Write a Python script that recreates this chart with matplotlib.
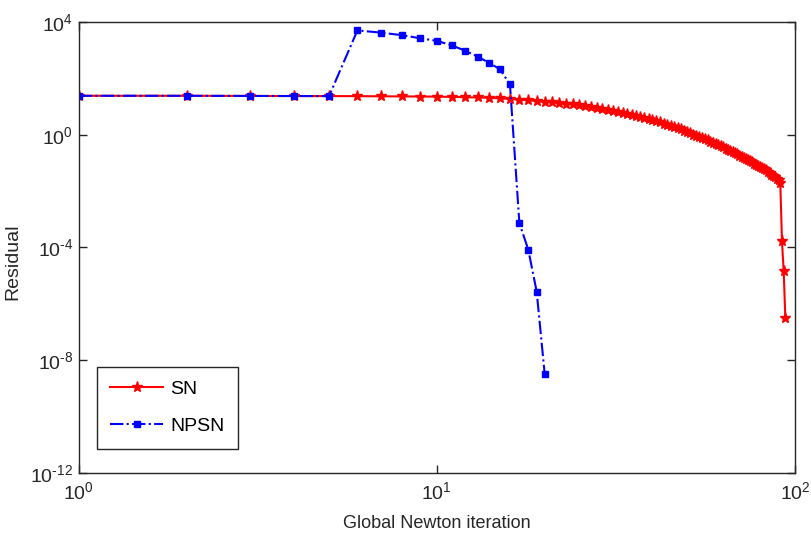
import numpy as np
import matplotlib
matplotlib.use("Agg")
import matplotlib.pyplot as plt

plt.rcParams["font.family"] = ["Liberation Sans", "DejaVu Sans"]
plt.rcParams["mathtext.fontset"] = "custom"
plt.rcParams["mathtext.rm"] = "Liberation Sans"

# residual history
sn_iter = list(range(1, 95))
sn_res = [
    24.0, 24.0, 23.7, 23.5, 23.4, 23.3, 23.0, 22.8, 22.6, 22.4,
    21.9, 21.4, 20.9, 20.4, 19.5, 18.6, 17.6, 16.6, 15.7, 14.8,
    14.0, 13.2, 12.6, 11.9, 11.2, 10.5, 9.66, 8.91, 8.32, 7.76,
    7.08, 6.46, 5.96, 5.50, 5.01, 4.57, 4.22, 3.85, 3.55, 3.24,
    2.95, 2.72, 2.48, 2.29, 2.07, 1.86, 1.70, 1.53, 1.38, 1.24,
    1.12, 1.01, 0.923, 0.832, 0.759, 0.684, 0.624, 0.569, 0.513, 0.468,
    0.427, 0.385, 0.351, 0.320, 0.288, 0.263, 0.240, 0.219, 0.200, 0.182,
    0.166, 0.151, 0.138, 0.126, 0.114, 0.104, 0.0944, 0.0861, 0.0785, 0.0716,
    0.0646, 0.0589, 0.0537, 0.0479, 0.0427, 0.0380, 0.0339, 0.0302, 0.0269, 0.0240,
    0.0200, 1.66e-4, 1.48e-5, 3.24e-7,
]

npsn_iter = list(range(1, 21))
npsn_res = [
    24.0, 24.0, 23.7, 23.5, 23.4, 5010, 4170, 3390, 2630, 2140,
    1480, 955, 589, 355, 209, 61.7, 7.24e-4, 8.32e-5, 2.69e-6, 3.31e-9,
]

x_ticks = [1, 10, 100]
x_labels = [r"$\mathregular{10^{0}}$", r"$\mathregular{10^{1}}$", r"$\mathregular{10^{2}}$"]
y_ticks = [1e-12, 1e-8, 1e-4, 1e0, 1e4]
y_labels = [r"$\mathregular{10^{\text{-12}}}$", r"$\mathregular{10^{\text{-8}}}$",
            r"$\mathregular{10^{\text{-4}}}$", r"$\mathregular{10^{0}}$",
            r"$\mathregular{10^{4}}$"]

fig = plt.figure(figsize=(8.12, 5.36), dpi=100)
ax = fig.add_axes([0.0970, 0.1180, 0.8820, 0.8410])

ax.plot(sn_iter, sn_res, color="red", linestyle="-", linewidth=1.5,
        marker="*", markersize=8, label="SN")
ax.plot(npsn_iter, npsn_res, color="blue", linestyle="-.", linewidth=1.5,
        marker="s", markersize=4, label="NPSN")

ax.set_xscale("log")
ax.set_yscale("log")
ax.set_xlim(1, 100)
ax.set_ylim(1e-12, 1e4)

ax.set_xticks(x_ticks)
ax.set_xticklabels(x_labels)
ax.set_yticks(y_ticks)
ax.set_yticklabels(y_labels)
ax.minorticks_off()
ax.tick_params(direction="in", top=True, right=True, length=6, width=1,
               labelsize=14, colors="#262626")
ax.tick_params(axis="x", pad=6)
ax.tick_params(axis="y", pad=4)

for s in ax.spines.values():
    s.set_color("#262626")
    s.set_linewidth(1.0)

ax.set_xlabel("Global Newton iteration", fontsize=13, color="#262626")
ax.set_ylabel("Residual", fontsize=14, color="#262626")
ax.xaxis.set_label_coords(0.5, -0.093)
ax.yaxis.set_label_coords(-0.08, 0.467)

leg = ax.legend(loc="lower left", bbox_to_anchor=(0.025, 0.053), fontsize=14,
                fancybox=False, edgecolor="#262626", framealpha=1,
                handlelength=2.7, handletextpad=0.4, borderpad=0.7,
                labelspacing=1.0, borderaxespad=0)
leg.get_frame().set_linewidth(1.0)

fig.savefig("out.png", dpi=100)
